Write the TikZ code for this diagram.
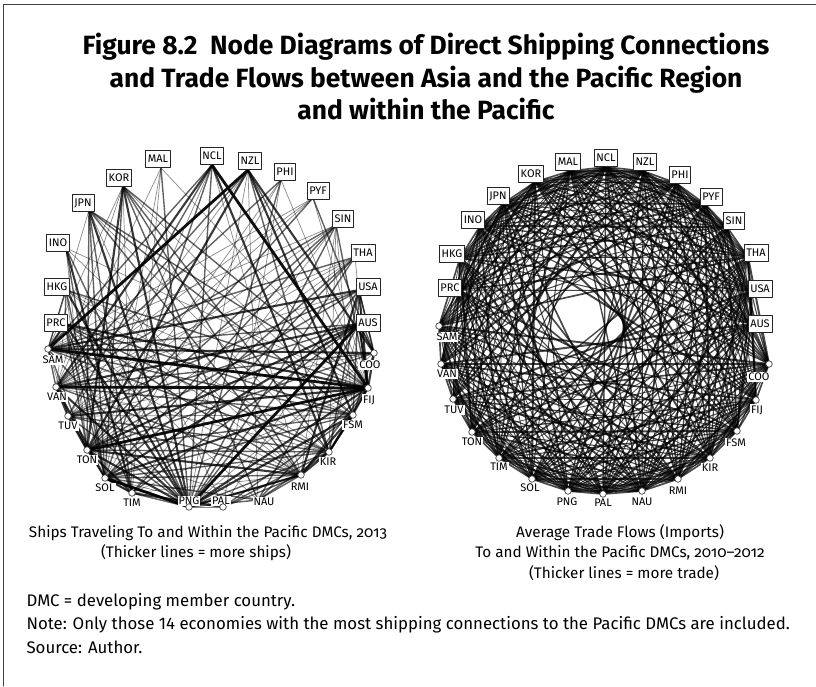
\documentclass[tikz,border=0pt]{standalone}
\usepackage{fontspec}
\setmainfont{Fira Sans}
\newfontfamily\capfont{Fira Sans}[Numbers=OldStyle]
\usetikzlibrary{calc}
\tikzset{
  asia box/.style={draw=black!85, fill=white, line width=0.6pt, inner sep=2.2pt,
    minimum height=17pt, font=\fontsize{11}{12}\selectfont},
  pac dot/.style={circle, draw=black!75, fill=white, line width=0.7pt,
    inner sep=0pt, minimum size=6.5pt},
  pac label/.style={fill=white, inner sep=1pt, font=\fontsize{11}{12}\selectfont},
  cap text/.style={font=\capfont\fontsize{15.3}{18}\selectfont},
  note text/.style={anchor=west, font=\fontsize{16.8}{19}\selectfont}
}

\begin{document}
\begin{tikzpicture}[x=1pt, y=-1pt, line cap=round, line join=round]
  \useasboundingbox (0,0) rectangle (816,686);

  % frame (left and top edges only)
  \draw[black!75, line width=0.8pt] (3,686) -- (3,4) -- (816,4);

  % Title
  \node[font=\bfseries\fontsize{26.4}{32.5}\selectfont, align=center] (title) at (426,77)
    {Figure 8.2\ \ Node Diagrams of Direct Shipping Connections\\
     and Trade Flows between Asia and the Pacific Region\\
     and within the Pacific};

  % ---------------- left diagram: ships ----------------
  % name / end point x / y / label x / y / kind (a = Asia box, p = Pacific dot, q = label only)
  \def\LNodes{PRC/65/324/56/323/a, HKG/66/290/57/287/a, INO/66/248/58/243/a,
    JPN/89/210/83/203/a, KOR/123/186/119/178/a, MAL/161/168/158/159/a,
    NCL/212/165/212/156/a, NZL/248/170/250/161/a, PHI/281/180/285/172/a,
    PYF/313/198/318/191/a, SIN/336/225/343/219/a, THA/355/257/363/253/a,
    USA/359/290/368/287/a, AUS/359/324/368/323/a,
    COO/374/353/370/365/p, FIJ/368/388/369/400/p, FSM/353/415/353/425/p,
    KIR/329/452/328/462/p, RMI/301/475/300/487/p, NAU/258/500/264/502/q,
    PAL/223/507/221/501/p, PNG/189/507/189/501/p, TIM/132/493/132/503/p,
    SOL/105/478/105/488/p, TON/87/450/87/460/p, TUV/68/416/68/426/p,
    VAN/56/387/57/397/p, SAM/48/349/53/360/p}

  \foreach \n/\px/\py/\lx/\ly/\k in \LNodes
    \coordinate (L-\n) at (\px,\py);

  % ship links: from / to / weight (1 thin ... 4 thick)
  \foreach \a/\b/\w in {MAL/PNG/2, MAL/SOL/1, MAL/FIJ/1, MAL/TIM/1, MAL/VAN/1,
    NCL/VAN/3, NCL/FIJ/4, NCL/SOL/2, NCL/PNG/2, NCL/TON/1, NCL/KIR/3, NCL/SAM/2,
    NCL/RMI/1, NCL/TUV/2, NZL/SAM/4, NZL/TON/3, NZL/FIJ/2, NZL/COO/3, NZL/TUV/1,
    NZL/VAN/2, NZL/PNG/1, NZL/KIR/2, NZL/NAU/1, NZL/FSM/3, PHI/PNG/2, PHI/FIJ/1,
    PHI/SOL/1, PHI/TON/1, PHI/VAN/2, PHI/PAL/1, PYF/COO/2, PYF/SAM/1, PYF/FIJ/1,
    PYF/TON/2, PYF/VAN/1, PYF/TUV/1, SIN/PNG/2, SIN/FIJ/2, SIN/SOL/2, SIN/TIM/1,
    SIN/VAN/2, SIN/SAM/1, SIN/TON/2, SIN/KIR/1, SIN/RMI/1, SIN/FSM/1, SIN/TUV/1,
    THA/PNG/2, THA/FIJ/1, THA/SOL/2, THA/VAN/1, THA/SAM/2, THA/TON/1, THA/TIM/2,
    THA/TUV/1, USA/SAM/3, USA/COO/2, USA/FIJ/3, USA/TON/2, USA/FSM/2, USA/RMI/3,
    USA/KIR/2, USA/PAL/1, USA/PNG/2, USA/VAN/1, USA/TUV/2, AUS/PNG/4, AUS/FIJ/3,
    AUS/SOL/3, AUS/VAN/3, AUS/SAM/2, AUS/TON/3, AUS/NAU/2, AUS/KIR/1, AUS/TIM/2,
    AUS/TUV/2, AUS/COO/2, KOR/PNG/3, KOR/FIJ/2, KOR/SOL/2, KOR/TON/3, KOR/VAN/1,
    KOR/SAM/1, KOR/RMI/2, KOR/KIR/2, KOR/FSM/1, KOR/TIM/1, KOR/NAU/2, JPN/PNG/3,
    JPN/FIJ/2, JPN/SOL/2, JPN/TON/2, JPN/SAM/1, JPN/RMI/2, JPN/FSM/2, JPN/KIR/1,
    JPN/PAL/1, JPN/TIM/2, INO/PNG/2, INO/FIJ/1, INO/TIM/3, INO/SOL/2, INO/TON/1,
    INO/RMI/1, HKG/PNG/3, HKG/FIJ/2, HKG/SOL/2, HKG/TON/1, HKG/SAM/2, HKG/RMI/1,
    HKG/FSM/1, HKG/KIR/1, PRC/PNG/3, PRC/FIJ/3, PRC/SOL/2, PRC/TON/2, PRC/SAM/1,
    PRC/RMI/2, PRC/FSM/2, PRC/KIR/2, PRC/VAN/1, PRC/TIM/2, PRC/NAU/1,
    SAM/FIJ/4, SAM/COO/3, SAM/TON/2, SAM/VAN/2, SAM/TUV/1, SAM/KIR/2, SAM/FSM/2,
    SAM/RMI/1, SAM/PNG/2, VAN/FIJ/4, VAN/SOL/3, VAN/PNG/3, VAN/TON/2, VAN/COO/2,
    VAN/KIR/1, VAN/FSM/2, VAN/RMI/2, TUV/FIJ/3, TUV/KIR/2, TUV/RMI/2, TUV/FSM/1,
    TUV/PNG/2, TUV/SOL/1, TUV/COO/1, TON/FIJ/4, TON/COO/2, TON/KIR/2, TON/RMI/3,
    TON/PNG/3, TON/SOL/2, TON/FSM/2, TON/NAU/1, SOL/PNG/4, SOL/FIJ/3, SOL/RMI/2,
    SOL/KIR/2, SOL/FSM/2, SOL/NAU/2, SOL/PAL/1, TIM/PNG/2, TIM/FIJ/1, TIM/RMI/1,
    TIM/SOL/1, PNG/FIJ/3, PNG/RMI/3, PNG/KIR/2, PNG/FSM/3, PNG/PAL/1, PNG/NAU/2,
    PNG/COO/1, FSM/RMI/3, FSM/KIR/2, FSM/PAL/2, FSM/FIJ/2, FIJ/KIR/3, FIJ/RMI/2,
    FIJ/COO/3, FIJ/NAU/2, KIR/RMI/3, KIR/NAU/2, RMI/PAL/2, RMI/NAU/2,
    PRC/HKG/2, PRC/SAM/3, VAN/TUV/3, TUV/TON/3, TON/TIM/3, SOL/TIM/3,
    TIM/PAL/3, SOL/PNG/3, PNG/RMI/2, PAL/KIR/2, KIR/FSM/3, FSM/COO/2,
    FIJ/AUS/2, COO/USA/2, AUS/COO/2}{
    \pgfmathsetmacro{\op}{0.3+0.16*\w}
    \draw[line width=0.7*\w pt, opacity=\op] (L-\a) -- (L-\b);
  }

  % labels on top
  \foreach \n/\px/\py/\lx/\ly/\k in \LNodes {
    \if\k a
      \node[asia box] (L-\n-box) at (\lx,\ly) {\n};
    \else
      \node[pac label] (L-\n-lbl) at (\lx,\ly) {\n};
      \if\k p
        \node[pac dot] (L-\n-dot) at (L-\n) {};
      \fi
    \fi
  }

  % ---------------- right diagram: trade ----------------
  \def\RNodes{PRC/459/290/450/288/a, HKG/460/258/452/254/a, INO/480/226/473/220/a,
    JPN/504/203/498/196/a, KOR/535/182/531/174/a, MAL/570/171/568/162/a,
    NCL/606/167/606/158/a, NZL/643/171/645/162/a, PHI/676/183/680/175/a,
    PYF/705/204/711/197/a, SIN/727/227/734/221/a, THA/748/257/756/253/a,
    USA/751/291/760/289/a, AUS/751/324/760/324/a,
    COO/769/364/759/377/p, FIJ/756/400/757/410/p, FSM/737/431/736/443/p,
    KIR/710/458/710/468/p, RMI/678/479/678/491/p, NAU/642/491/642/502/p,
    PAL/603/494/603/503/p, PNG/568/491/567/502/p, SOL/532/479/530/488/p,
    TIM/499/458/499/467/p, TON/472/432/472/442/p, TUV/453/399/454/410/p,
    VAN/441/364/447/374/p, SAM/439/326/447/337/p}

  \foreach \n/\px/\py/\lx/\ly/\k in \RNodes
    \coordinate (R-\n) at (\px,\py);

  % every pair, except the chords that cross the empty middle
  \foreach \a/\ax/\ay/\alx/\aly/\ak [count=\i] in \RNodes {
    \foreach \b/\bx/\by/\blx/\bly/\bk [count=\j] in \RNodes {
      \ifnum\j>\i
        \pgfmathsetmacro{\dd}{abs((\bx-\ax)/100*(\ay-317)/100-(\ax-581)/100*(\by-\ay)/100)/veclen((\bx-\ax)/100,(\by-\ay)/100)}
        \pgfmathsetmacro{\lw}{0.75+0.3*mod(\i*7+\j*13,5)}
        \ifdim\dd pt>0.2pt
          \draw[line width=\lw pt, opacity=0.72] (R-\a) -- (R-\b);
        \fi
      \fi
    }
  }

  \foreach \n/\px/\py/\lx/\ly/\k in \RNodes {
    \if\k a
      \node[asia box] (R-\n-box) at (\lx,\ly) {\n};
    \else
      \node[pac label] (R-\n-lbl) at (\lx,\ly) {\n};
      \node[pac dot] (R-\n-dot) at (R-\n) {};
    \fi
  }

  % captions
  \node[cap text] (capL1) at (208,533) {Ships Traveling To and Within the Pacific DMCs, 2013};
  \node[cap text] (capL2) at (196,553) {(Thicker lines = more ships)};
  \node[cap text] (capR1) at (620,533) {Average Trade Flows (Imports)};
  \node[cap text] (capR2) at (620,553) {To and Within the Pacific DMCs, 2010–2012};
  \node[cap text] (capR3) at (624,573) {(Thicker lines = more trade)};

  % notes
  \node[note text] (abbr) at (23,602) {DMC = developing member country.};
  \node[note text] (note) at (23,625) {Note: Only those 14 economies with the most shipping connections to the Pacific DMCs are included.};
  \node[note text] (src) at (23,647) {Source: Author.};
\end{tikzpicture}
\end{document}
